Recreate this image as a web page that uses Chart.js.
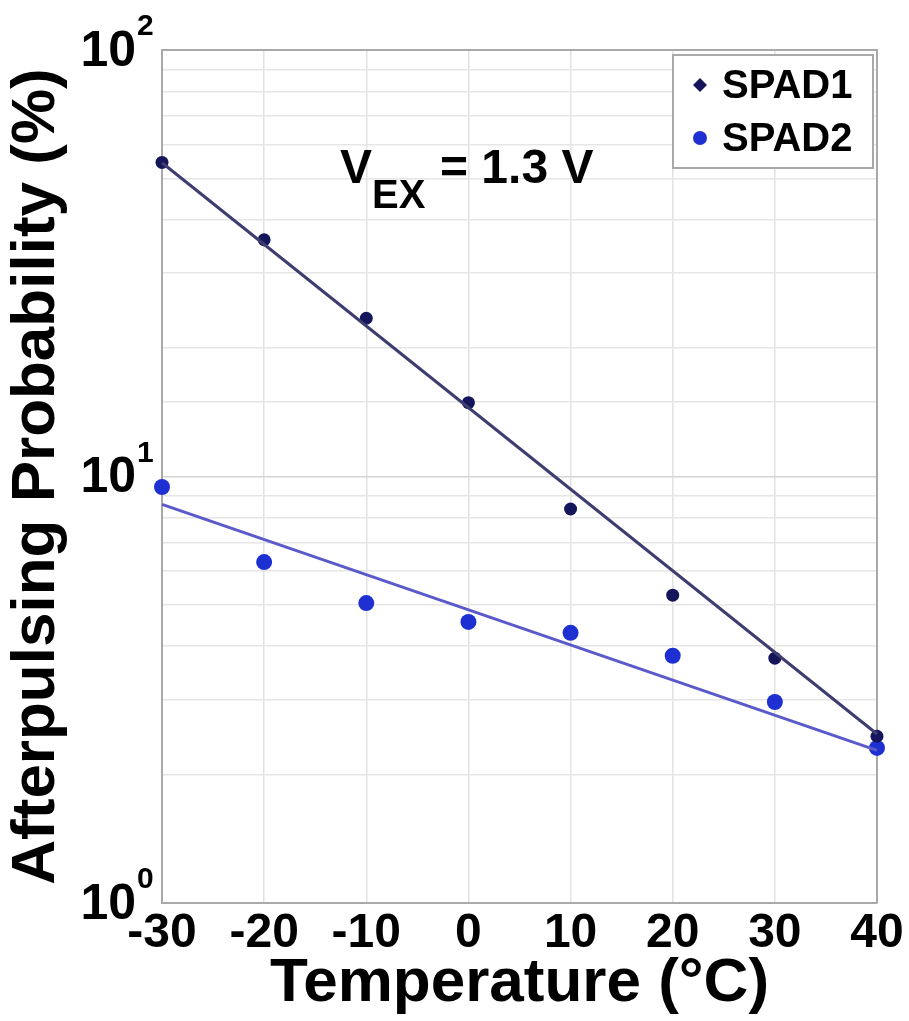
<!DOCTYPE html>
<html lang="en">
<head>
    <meta charset="UTF-8">
    <title>Afterpulsing Probability vs Temperature</title>
    <script src="https://cdnjs.cloudflare.com/ajax/libs/Chart.js/4.4.1/chart.umd.min.js"></script>
    <style>
        * { margin: 0; padding: 0; box-sizing: border-box; }
        body { background: #fff; width: 909px; height: 1021px; overflow: hidden; }
        #chart { display: block; }
    </style>
</head>
<body>
    <canvas id="chart" width="909" height="1021"></canvas>
    <script>
        // temperatures (°C)
        const temps = [-30, -20, -10, 0, 10, 20, 30, 40];
        // afterpulsing probability (%)
        const spad1 = [54.5, 35.9, 23.5, 14.9, 8.39, 5.27, 3.75, 2.46];
        const spad2 = [9.45, 6.30, 5.05, 4.56, 4.30, 3.80, 2.96, 2.31];
        // fitted lines, end points
        const fitTemps = [-30, 40];
        const fit1 = [54.4, 2.49];
        const fit2 = [8.6, 2.28];
        const decadeTicks = [1, 10, 100];
        const decadeExp = ['0', '1', '2'];
        const seriesNames = ['SPAD1', 'SPAD2'];

        const navy = '#15155c';
        const blue = '#1f30d2';
        const FONT = "'Liberation Sans', Arial, sans-serif";

        function pts(xs, ys) {
            return xs.map((x, i) => ({ x: x, y: ys[i] }));
        }

        const extras = {
            id: 'extras',
            afterDraw(chart) {
                const ctx = chart.ctx;
                const a = chart.chartArea;
                const yScale = chart.scales.y;
                ctx.save();

                // y tick labels 10^n
                ctx.fillStyle = '#000';
                decadeTicks.forEach((v, i) => {
                    const y = yScale.getPixelForValue(v);
                    ctx.font = 'bold 50px ' + FONT;
                    ctx.textAlign = 'right';
                    ctx.textBaseline = 'middle';
                    ctx.fillText('10', 136, y + 2);
                    ctx.font = 'bold 30px ' + FONT;
                    ctx.textAlign = 'left';
                    ctx.textBaseline = 'alphabetic';
                    ctx.fillText(decadeExp[i], 137, y - 15);
                });

                // annotation
                ctx.textAlign = 'left';
                ctx.textBaseline = 'alphabetic';
                ctx.font = 'bold 48px ' + FONT;
                ctx.fillText('V', 340, 183);
                ctx.font = 'bold 40px ' + FONT;
                ctx.fillText('EX', 372, 208);
                ctx.font = 'bold 48px ' + FONT;
                ctx.fillText('= 1.3 V', 440, 183);

                // legend
                ctx.fillStyle = '#fff';
                ctx.fillRect(673, 55, 200, 113);
                ctx.strokeStyle = '#a9a9a9';
                ctx.lineWidth = 2;
                ctx.strokeRect(673, 55, 200, 113);
                ctx.fillStyle = navy;
                ctx.beginPath();
                ctx.moveTo(700, 78); ctx.lineTo(707, 85); ctx.lineTo(700, 92); ctx.lineTo(693, 85);
                ctx.closePath();
                ctx.fill();
                ctx.fillStyle = blue;
                ctx.beginPath();
                ctx.arc(700, 138, 7, 0, Math.PI * 2);
                ctx.fill();
                ctx.fillStyle = '#000';
                ctx.font = 'bold 40px ' + FONT;
                ctx.textBaseline = 'middle';
                ctx.fillText(seriesNames[0], 722, 87);
                ctx.fillText(seriesNames[1], 722, 140);
                ctx.restore();
            },
            beforeDatasetsDraw(chart) {
                // frame on top / right
                const ctx = chart.ctx;
                const a = chart.chartArea;
                ctx.save();
                ctx.strokeStyle = '#a9a9a9';
                ctx.lineWidth = 2;
                ctx.beginPath();
                ctx.moveTo(a.left, a.top);
                ctx.lineTo(a.right, a.top);
                ctx.lineTo(a.right, a.bottom);
                ctx.stroke();
                ctx.restore();
            }
        };

        new Chart(document.getElementById('chart'), {
            type: 'scatter',
            data: {
                datasets: [
                    {
                        label: 'SPAD1 fit', type: 'line', data: pts(fitTemps, fit1),
                        borderColor: '#3d3d70', borderWidth: 3, pointRadius: 0, fill: false, clip: false
                    },
                    {
                        label: 'SPAD2 fit', type: 'line', data: pts(fitTemps, fit2),
                        borderColor: '#5a5acb', borderWidth: 3, pointRadius: 0, fill: false, clip: false
                    },
                    {
                        label: seriesNames[0], data: pts(temps, spad1), clip: false,
                        backgroundColor: navy, borderColor: navy, pointRadius: 6.5, pointBorderWidth: 0
                    },
                    {
                        label: seriesNames[1], data: pts(temps, spad2), clip: false,
                        backgroundColor: blue, borderColor: blue, pointRadius: 8, pointBorderWidth: 0
                    }
                ]
            },
            options: {
                responsive: false,
                devicePixelRatio: 1,
                animation: false,
                layout: { padding: { top: 50, right: 32, left: 0, bottom: 0 } },
                plugins: {
                    legend: { display: false },
                    tooltip: { enabled: false }
                },
                scales: {
                    x: {
                        type: 'linear', min: -30, max: 40,
                        ticks: {
                            stepSize: 10, padding: 2, color: '#000',
                            font: { family: FONT, size: 48, weight: 'bold' }
                        },
                        grid: { color: '#e2e2e2', lineWidth: 1.5, drawTicks: false },
                        border: { color: '#a9a9a9', width: 2 },
                        title: {
                            display: true, text: 'Temperature (°C)', color: '#000',
                            font: { family: FONT, size: 62, weight: 'bold' },
                            padding: { top: 0, bottom: 0 }
                        },
                        afterFit(scale) { scale.height = 118; }
                    },
                    y: {
                        type: 'logarithmic', min: 1, max: 100,
                        ticks: { display: false },
                        grid: {
                            drawTicks: false, lineWidth: 1.5,
                            color: ctx => {
                                const v = ctx.tick ? ctx.tick.value : 0;
                                return decadeTicks.includes(v) ? '#d4d4d4' : '#e6e6e6';
                            }
                        },
                        border: { color: '#a9a9a9', width: 2 },
                        title: {
                            display: true, text: 'Afterpulsing Probability (%)', color: '#000',
                            font: { family: FONT, size: 62, weight: 'bold' },
                            padding: { top: 0, bottom: 0 }
                        },
                        afterFit(scale) { scale.width = 162; }
                    }
                }
            },
            plugins: [extras]
        });
    </script>
</body>
</html>
